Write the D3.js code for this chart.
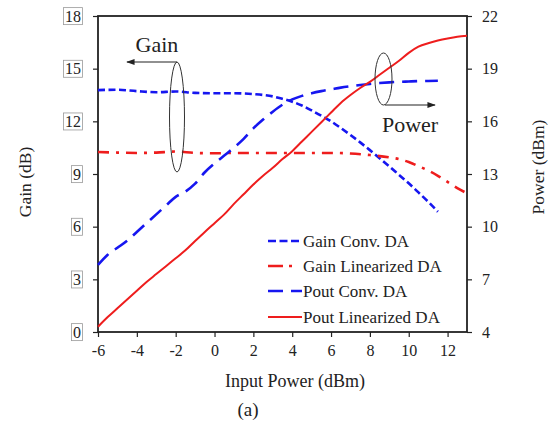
<!DOCTYPE html>
<html>
<head>
<meta charset="utf-8">
<script src="https://cdn.jsdelivr.net/npm/d3@7"></script>
<style>
  html, body { margin: 0; padding: 0; background: #fff; }
  svg { display: block; font-family: "Liberation Serif", "Times New Roman", serif; }
</style>
</head>
<body>
<svg id="chart" width="555" height="422"></svg>
<script>
// Input power sweep (dBm) for each measured trace
const gainConvX = [-6,-5,-4,-3,-2,-1,0,1,2,3,3.5,4,4.5,5,5.5,6,6.5,7,7.5,8,8.5,9,9.5,10,10.5,11,11.5];
const gainConvY = [13.78,13.8,13.72,13.66,13.7,13.62,13.6,13.6,13.55,13.42,13.28,13.12,12.9,12.62,12.32,12.0,11.62,11.22,10.8,10.36,9.9,9.43,8.95,8.47,7.95,7.42,6.85];

const gainLinX = [-6,-5,-4,-3,-2,-1,0,1,2,3,4,5,6,7,8,9,9.5,10,10.5,11,11.5,12,12.5,13];
const gainLinY = [10.25,10.22,10.2,10.22,10.28,10.2,10.18,10.2,10.2,10.2,10.2,10.2,10.2,10.17,10.08,9.95,9.85,9.68,9.45,9.2,8.9,8.55,8.2,7.9];

const poutConvX = [-6,-5.5,-5,-4.5,-4,-3.5,-3,-2.5,-2,-1.5,-1,-0.5,0,0.5,1,1.5,2,2.5,3,3.5,4,4.5,5,5.5,6,6.5,7,7.5,8,8.5,9,9.5,10,10.5,11,11.5];
const poutConvY = [7.82,8.4,8.8,9.2,9.7,10.2,10.7,11.2,11.7,12.0,12.45,13.1,13.6,14.05,14.5,15.0,15.6,16.1,16.55,16.95,17.25,17.45,17.6,17.72,17.82,17.92,18.0,18.07,18.13,18.18,18.22,18.25,18.27,18.29,18.3,18.31];

const poutLinX = [-6,-5.5,-5,-4.5,-4,-3.5,-3,-2.5,-2,-1.5,-1,-0.5,0,0.5,1,1.5,2,2.5,3,3.5,4,4.5,5,5.5,6,6.5,7,7.5,8,8.5,9,9.5,10,10.5,11,11.5,12,12.5,13];
const poutLinY = [4.3,4.85,5.35,5.85,6.35,6.85,7.3,7.75,8.2,8.65,9.18,9.7,10.2,10.7,11.3,11.85,12.4,12.9,13.35,13.85,14.3,14.85,15.4,15.95,16.5,17.05,17.5,17.9,18.25,18.65,19.05,19.45,19.9,20.25,20.45,20.6,20.72,20.82,20.88];

// Axis ticks
const xTicks = [-6,-4,-2,0,2,4,6,8,10,12];
const gainTicks = [0,3,6,9,12,15,18];
const powerTicks = [4,7,10,13,16,19,22];

const seriesNames = ["Gain Conv. DA", "Gain Linearized DA", "Pout Conv. DA", "Pout Linearized DA"];

const BLUE = "#1616f0", RED = "#ee1d1d", INK = "#222";
const SERIF = '"Liberation Serif", "Times New Roman", serif';

const svg = d3.select("#chart");
const m = { left: 98, right: 467, top: 16, bottom: 332 };

const x = d3.scaleLinear().domain([-6, 13]).range([m.left, m.right]);
const yGain = d3.scaleLinear().domain([0, 18]).range([m.bottom, m.top]);
const yPow = d3.scaleLinear().domain([4, 22]).range([m.bottom, m.top]);

const plain = d => String(d);   // keeps an ASCII hyphen for negatives

// Axes
const axisStyle = g => {
  g.select(".domain").remove();
  g.selectAll(".tick line").attr("stroke", INK).attr("stroke-width", 1.2);
  g.selectAll(".tick text").attr("fill", "#222").style("font-size", "16px")
    .style("font-family", SERIF);
};

svg.append("g").attr("transform", `translate(0,${m.bottom})`)
  .call(d3.axisBottom(x).tickValues(xTicks).tickSize(5).tickPadding(8).tickFormat(plain))
  .call(axisStyle);

const gyL = svg.append("g").attr("transform", `translate(${m.left},0)`)
  .call(d3.axisLeft(yGain).tickValues(gainTicks).tickSize(5).tickPadding(12).tickFormat(plain))
  .call(axisStyle);

// framed labels on the gain axis
gyL.selectAll(".tick").each(function() {
  const t = d3.select(this).select("text");
  const b = t.node().getBBox();
  d3.select(this).insert("rect", "text")
    .attr("x", b.x - 1.5).attr("y", b.y)
    .attr("width", b.width + 3).attr("height", b.height)
    .attr("fill", "none").attr("stroke", "#9a9a9a").attr("stroke-width", 0.8);
});

svg.append("g").attr("transform", `translate(${m.right},0)`)
  .call(d3.axisRight(yPow).tickValues(powerTicks).tickSize(5).tickPadding(10).tickFormat(plain))
  .call(axisStyle);

// Plot frame
svg.append("rect")
  .attr("x", m.left).attr("y", m.top)
  .attr("width", m.right - m.left).attr("height", m.bottom - m.top)
  .attr("fill", "none").attr("stroke", INK).attr("stroke-width", 1.8);

// Axis titles
svg.append("text").attr("x", 295).attr("y", 387).attr("text-anchor", "middle")
  .style("font-size", "18px").attr("fill", "#222").text("Input Power (dBm)");
svg.append("text").attr("x", 248).attr("y", 416).attr("text-anchor", "middle")
  .style("font-size", "19px").attr("fill", "#222").text("(a)");
svg.append("text").attr("transform", "translate(31,182) rotate(-90)").attr("text-anchor", "middle")
  .style("font-size", "17.5px").attr("fill", "#222").text("Gain (dB)");
svg.append("text").attr("transform", "translate(544,167) rotate(-90)").attr("text-anchor", "middle")
  .style("font-size", "17.5px").attr("fill", "#222").text("Power (dBm)");

// Traces
const plot = svg.append("g");
const lineOf = (xs, ys, yScale) =>
  d3.line().x((d, i) => x(xs[i])).y(d => yScale(d)).curve(d3.curveMonotoneX)(ys);

const traces = [
  { xs: gainConvX, ys: gainConvY, y: yGain, color: BLUE, dash: "7,3.5", key: "8,3.5", w: 2.6 },
  { xs: gainLinX,  ys: gainLinY,  y: yGain, color: RED,  dash: "11,7,3,7", key: "15,6,3,20", w: 2.6 },
  { xs: poutConvX, ys: poutConvY, y: yPow,  color: BLUE, dash: "15,8", key: "15,8", w: 2.6 },
  { xs: poutLinX,  ys: poutLinY,  y: yPow,  color: RED,  dash: null, key: null, w: 2 }
];

traces.forEach(t => {
  plot.append("path")
    .attr("d", lineOf(t.xs, t.ys, t.y))
    .attr("fill", "none").attr("stroke", t.color).attr("stroke-width", t.w)
    .attr("stroke-dasharray", t.dash).attr("stroke-linecap", "butt");
});

// Legend
const legend = svg.append("g");
const legendRows = [241, 266, 291, 317];
traces.forEach((t, i) => {
  legend.append("line")
    .attr("x1", 268).attr("x2", 302).attr("y1", legendRows[i]).attr("y2", legendRows[i])
    .attr("stroke", t.color).attr("stroke-width", t.w)
    .attr("stroke-dasharray", t.key);
  legend.append("text").attr("x", 303).attr("y", legendRows[i]).attr("dy", "0.35em")
    .style("font-size", "17px").attr("fill", "#222").text(seriesNames[i]);
});

// Annotation arrows
svg.append("defs").append("marker")
  .attr("id", "ah").attr("viewBox", "0 0 10 10").attr("refX", 9).attr("refY", 5)
  .attr("markerWidth", 7).attr("markerHeight", 7).attr("orient", "auto-start-reverse")
  .append("path").attr("d", "M0,1.5 L10,5 L0,8.5 Z").attr("fill", "#222");

const ann = svg.append("g");
ann.append("ellipse").attr("cx", 177).attr("cy", 117).attr("rx", 7.5).attr("ry", 55)
  .attr("fill", "none").attr("stroke", "#333").attr("stroke-width", 1);
ann.append("line").attr("x1", 177).attr("y1", 62).attr("x2", 127).attr("y2", 62)
  .attr("stroke", "#222").attr("stroke-width", 1.2).attr("marker-end", "url(#ah)");
ann.append("text").attr("x", 157).attr("y", 52).attr("text-anchor", "middle")
  .style("font-size", "22px").attr("fill", "#222").text("Gain");

ann.append("ellipse").attr("cx", 383.5).attr("cy", 79).attr("rx", 8.5).attr("ry", 26)
  .attr("fill", "none").attr("stroke", "#333").attr("stroke-width", 1);
ann.append("line").attr("x1", 385).attr("y1", 105).attr("x2", 435).attr("y2", 105)
  .attr("stroke", "#222").attr("stroke-width", 1.2).attr("marker-end", "url(#ah)");
ann.append("text").attr("x", 410).attr("y", 132).attr("text-anchor", "middle")
  .style("font-size", "22px").attr("fill", "#222").text("Power");
</script>
</body>
</html>
